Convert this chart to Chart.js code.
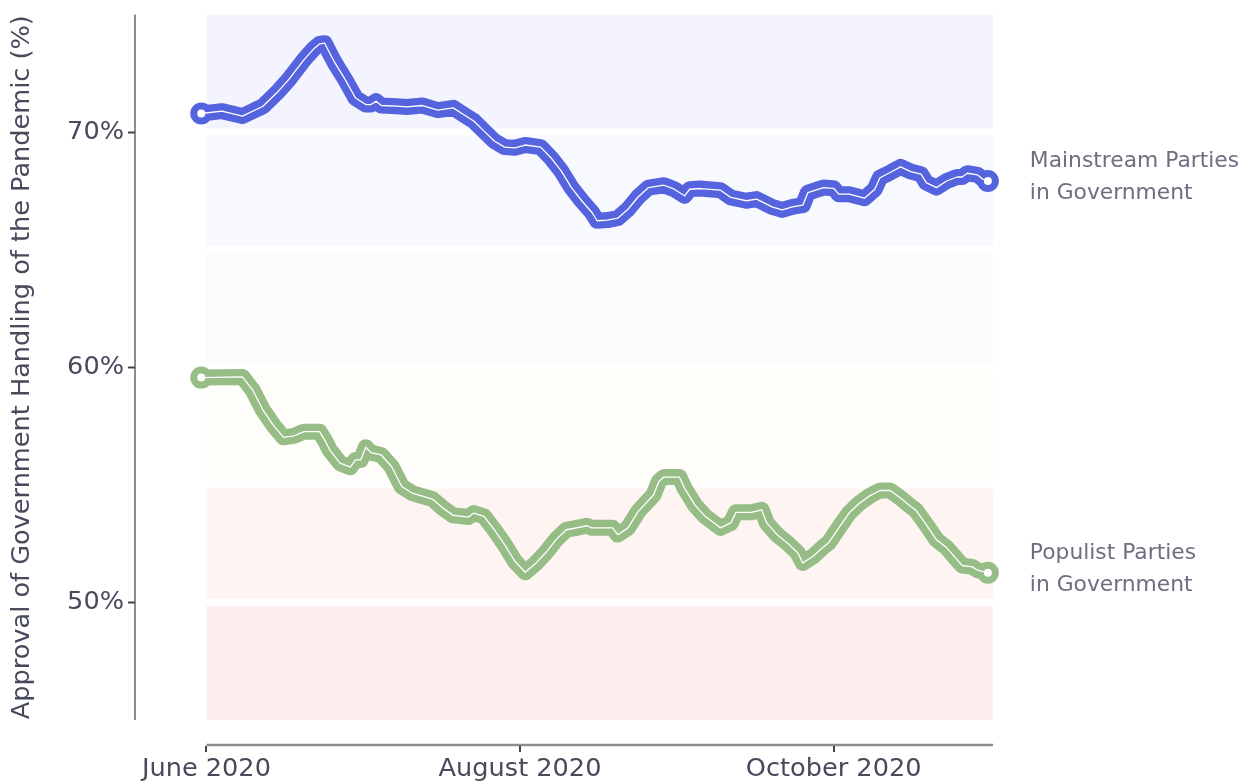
<!DOCTYPE html>
<html>
<head>
<meta charset="utf-8">
<script src="https://cdn.jsdelivr.net/npm/chart.js@4.4.1/dist/chart.umd.min.js"></script>
<style>
  html, body { margin: 0; padding: 0; background: #fff; }
  canvas { display: block; }
</style>
</head>
<body>
<canvas id="approvalChart" width="1246" height="781"></canvas>
<script>
// x values are days counted from 1 June 2020
const mainstreamDays = [-1, 3, 7, 11, 14, 16, 19, 21, 22, 23, 24, 25, 27, 29, 31, 32, 33, 34, 37, 39, 42, 45, 48,
  50, 52, 54, 56, 58, 60, 62, 65, 67, 69, 71, 73, 75, 76, 78, 80, 82, 84, 86, 89, 91, 93, 94, 96,
  100, 102, 105, 107, 110, 112, 114, 116, 117, 120, 122, 123, 125, 128, 130, 131, 133, 135, 137, 139,
  140, 142, 144, 146, 147, 148, 150, 151, 152];
const mainstreamValues = [70.79, 70.89, 70.68, 71.10, 71.74, 72.23, 73.08, 73.57, 73.75, 73.78, 73.35, 72.94, 72.23,
  71.45, 71.17, 71.17, 71.31, 71.13, 71.10, 71.07, 71.13, 70.93, 71.03,
  70.75, 70.47, 70.04, 69.62, 69.36, 69.33, 69.45, 69.36, 68.91, 68.35, 67.64, 67.08, 66.58, 66.23,
  66.26, 66.34, 66.72, 67.25, 67.64, 67.74, 67.57, 67.29, 67.57, 67.60,
  67.53, 67.22, 67.08, 67.15, 66.82, 66.69, 66.82, 66.89, 67.43, 67.64, 67.61, 67.36, 67.36, 67.19,
  67.57, 68.06, 68.28, 68.52, 68.32, 68.21,
  67.85, 67.64, 67.92, 68.09, 68.09, 68.25, 68.18, 68.00, 67.92];

const populistDays = [-1, 7, 9, 11, 13, 15, 17, 19, 22, 23, 24, 26, 28, 29, 30, 31, 32, 34, 36, 38, 40, 44, 46, 48,
  51, 52, 54, 56, 58, 60, 62, 64, 66, 68, 70, 72, 74, 75, 79, 80, 82, 84, 87, 88, 89, 92, 93, 95, 97,
  100, 102, 103, 106, 108, 109, 111, 113, 115, 116, 118, 120, 121, 123, 125, 127, 129, 131, 133, 135,
  137, 138, 140, 142, 144, 146, 147, 149, 150, 152];
const populistValues = [59.56, 59.59, 59.03, 58.18, 57.54, 57.02, 57.08, 57.26, 57.26, 56.91, 56.48, 55.92, 55.75,
  56.06, 56.06, 56.60, 56.37, 56.27, 55.78, 54.93, 54.65, 54.39, 54.01, 53.70,
  53.63, 53.80, 53.66, 53.09, 52.46, 51.75, 51.28, 51.65, 52.11, 52.67, 53.09, 53.17, 53.26, 53.17,
  53.17, 52.88, 53.17, 53.87, 54.58, 55.14, 55.33, 55.33, 54.86, 54.15, 53.66,
  53.17, 53.38, 53.83, 53.83, 53.94, 53.38, 52.88, 52.53, 52.11, 51.68, 51.96, 52.36, 52.53, 53.17,
  53.80, 54.22, 54.53, 54.76, 54.76, 54.44,
  54.08, 53.92, 53.31, 52.67, 52.32, 51.82, 51.57, 51.51, 51.37, 51.26];

const tickDays = [0, 61, 122];
const tickLabels = ["June 2020", "August 2020", "October 2020"];
const yTickValues = [50, 60, 70];

const bandEdges = [45, 50, 55, 60, 65, 70, 75];
const bandColors = ["#fdeeee", "#fef4f1", "#fffdf9", "#fbfbfe", "#f8f9fe", "#f3f4fd"];
const bandStartDay = 0;
const bandEndDay = 153;

const seriesNames = [["Mainstream Parties", "in Government"], ["Populist Parties", "in Government"]];
const seriesColors = ["#5563de", "#96bd85"];

const FONT = "'DejaVu Sans', sans-serif";

function toPoints(days, values) {
  return days.map((d, i) => ({ x: d, y: values[i] }));
}

function endpointRadius(ctx) {
  const last = ctx.dataset.data.length - 1;
  return ctx.dataIndex === 0 || ctx.dataIndex === last ? 7.5 : 0;
}

function thickLine(points, color) {
  return {
    data: points,
    borderColor: color,
    borderWidth: 16,
    borderJoinStyle: "round",
    borderCapStyle: "round",
    tension: 0,
    pointRadius: endpointRadius,
    pointHoverRadius: endpointRadius,
    pointBackgroundColor: "#ffffff",
    pointBorderColor: color,
    pointBorderWidth: 7,
    order: 1
  };
}

function whiteLine(points) {
  return {
    data: points,
    borderColor: "#ffffff",
    borderWidth: 1.3,
    borderJoinStyle: "round",
    tension: 0,
    pointRadius: 0,
    order: 0
  };
}

const decorPlugin = {
  id: "decor",
  beforeDatasetsDraw(chart) {
    const { ctx, scales: { x, y } } = chart;
    const left = x.getPixelForValue(bandStartDay);
    const right = x.getPixelForValue(bandEndDay);
    ctx.save();
    bandColors.forEach((color, i) => {
      const lo = bandEdges[i] + (i > 0 ? 0.15 : 0);
      const hi = bandEdges[i + 1] - (i < bandColors.length - 1 ? 0.15 : 0);
      const top = y.getPixelForValue(hi);
      const bottom = y.getPixelForValue(lo);
      ctx.fillStyle = color;
      ctx.fillRect(left, top, right - left, bottom - top);
    });
    ctx.restore();
  },
  afterDraw(chart) {
    const { ctx, chartArea, scales: { x, y } } = chart;
    ctx.save();

    // left spine, pushed out from the plot
    const spineX = chartArea.left - 20;
    ctx.strokeStyle = "#8c8c8c";
    ctx.lineWidth = 2;
    ctx.beginPath();
    ctx.moveTo(spineX, y.getPixelForValue(75));
    ctx.lineTo(spineX, y.getPixelForValue(45));
    ctx.stroke();

    ctx.strokeStyle = "#444";
    yTickValues.forEach((v) => {
      const py = Math.round(y.getPixelForValue(v)) + 0.5;
      ctx.beginPath();
      ctx.moveTo(spineX - 7, py);
      ctx.lineTo(spineX, py);
      ctx.stroke();
    });

    // bottom spine, trimmed to the bands
    const spineY = chartArea.bottom + 25;
    ctx.strokeStyle = "#8c8c8c";
    ctx.lineWidth = 2.5;
    ctx.beginPath();
    ctx.moveTo(x.getPixelForValue(bandStartDay), spineY);
    ctx.lineTo(x.getPixelForValue(bandEndDay), spineY);
    ctx.stroke();

    ctx.strokeStyle = "#444";
    ctx.lineWidth = 2;
    tickDays.forEach((d) => {
      const px = Math.round(x.getPixelForValue(d));
      ctx.beginPath();
      ctx.moveTo(px, spineY + 1);
      ctx.lineTo(px, spineY + 7);
      ctx.stroke();
    });

    // series labels at the right end of each line
    ctx.fillStyle = "#6e6e80";
    ctx.font = "21.8px " + FONT;
    ctx.textAlign = "left";
    ctx.textBaseline = "middle";
    [0, 2].forEach((dsIndex, s) => {
      const pts = chart.getDatasetMeta(dsIndex).data;
      const end = pts[pts.length - 1];
      const cy = end.y - 3.5;
      ctx.fillText(seriesNames[s][0], end.x + 42, cy - 15.7);
      ctx.fillText(seriesNames[s][1], end.x + 42, cy + 15.7);
    });

    ctx.restore();
  }
};

const mainstreamPoints = toPoints(mainstreamDays, mainstreamValues);
const populistPoints = toPoints(populistDays, populistValues);

new Chart(document.getElementById("approvalChart"), {
  type: "line",
  data: {
    datasets: [
      thickLine(mainstreamPoints, seriesColors[0]),
      whiteLine(mainstreamPoints),
      thickLine(populistPoints, seriesColors[1]),
      whiteLine(populistPoints)
    ]
  },
  options: {
    responsive: false,
    animation: false,
    layout: { padding: { top: 13, right: 217, left: 0, bottom: 0 } },
    plugins: {
      legend: { display: false },
      tooltip: { enabled: false }
    },
    scales: {
      x: {
        type: "linear",
        min: -10,
        max: 160,
        grid: { display: false, drawTicks: false },
        border: { display: false },
        afterBuildTicks: (scale) => {
          scale.ticks = tickDays.map((v) => ({ value: v }));
        },
        afterFit: (scale) => {
          scale.height = 61;
          scale.paddingLeft = 0;
          scale.paddingRight = 0;
        },
        ticks: {
          autoSkip: false,
          maxRotation: 0,
          padding: 34,
          color: "#474a5c",
          font: { family: FONT, size: 25.6 },
          callback: (value) => tickLabels[tickDays.indexOf(value)]
        }
      },
      y: {
        min: 45,
        max: 75,
        grid: { display: false, drawTicks: false },
        border: { display: false },
        afterBuildTicks: (scale) => {
          scale.ticks = yTickValues.map((v) => ({ value: v }));
        },
        afterFit: (scale) => {
          scale.width = 155;
          scale.paddingTop = 0;
          scale.paddingBottom = 0;
        },
        ticks: {
          padding: 31,
          color: "#474a5c",
          font: { family: FONT, size: 25.6 },
          callback: (value) => value + "%"
        },
        title: {
          display: true,
          text: "Approval of Government Handling of the Pandemic (%)",
          color: "#474a5c",
          font: { family: FONT, size: 25.6 },
          padding: { top: 7, bottom: 0 }
        }
      }
    }
  },
  plugins: [decorPlugin]
});
</script>
</body>
</html>
